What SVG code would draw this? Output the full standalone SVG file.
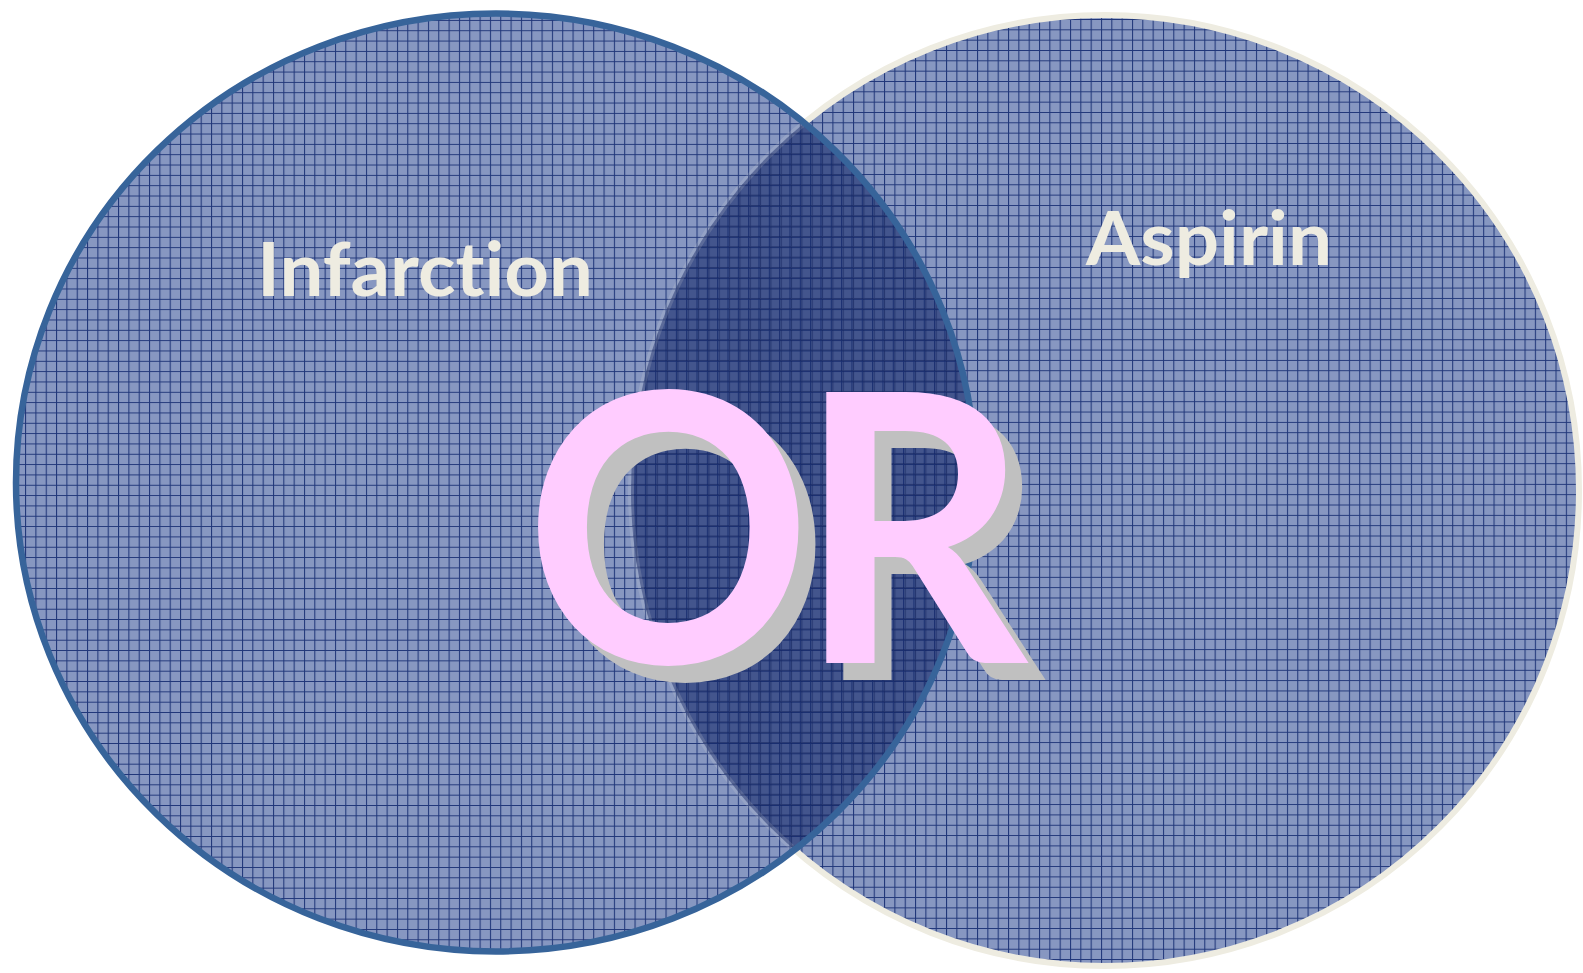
<svg xmlns="http://www.w3.org/2000/svg" width="1583" height="973" viewBox="0 0 1583 973">
<style>
.lbl{font-family:Lato,"Open Sans","Liberation Sans",sans-serif;font-weight:700;font-size:74px;fill:#eeece1;font-variant-ligatures:none;font-feature-settings:"liga" 0,"clig" 0}
.big{font-family:Lato,"Open Sans","Liberation Sans",sans-serif;font-weight:700;font-size:375px}
.sh{fill:#c0c0c0}
.pk{fill:#ffccff}
</style>
<defs>
<pattern id="gridL" patternUnits="userSpaceOnUse" x="4.4" y="9.6" width="10.33" height="10.33">
<rect width="10.33" height="10.33" fill="#8797c1"/>
<path d="M0 0.5H10.33M0.5 0V10.33" stroke="#203679" stroke-width="1.1"/>
</pattern>
<pattern id="gridR" patternUnits="userSpaceOnUse" x="6" y="8.7" width="10.33" height="10.33">
<rect width="10.33" height="10.33" fill="#8797c1"/>
<path d="M0 0.5H10.33M0.5 0V10.33" stroke="#203679" stroke-width="1.1"/>
</pattern>
<pattern id="linesR" patternUnits="userSpaceOnUse" x="6" y="8.7" width="10.33" height="10.33">
<path d="M0 0.5H10.33M0.5 0V10.33" stroke="#14245e" stroke-width="1.1"/>
</pattern>
<clipPath id="clipL"><ellipse cx="496" cy="482.5" rx="480" ry="469"/></clipPath>
</defs>
<rect width="1583" height="973" fill="#ffffff"/>
<g id="aspirin-set">
<ellipse cx="1105" cy="490.5" rx="474" ry="475.5" fill="url(#gridR)" stroke="#eeece1" stroke-width="6"/>
</g>
<g id="infarction-set">
<ellipse cx="496" cy="482.5" rx="480" ry="469" fill="url(#gridL)"/>
</g>
<g id="intersection" clip-path="url(#clipL)">
<ellipse cx="1105" cy="490.5" rx="474" ry="475.5" fill="#16296a" fill-opacity="0.6"/>
<ellipse cx="1105" cy="490.5" rx="474" ry="475.5" fill="url(#linesR)" opacity="0.6"/>
<ellipse cx="1105" cy="490.5" rx="474" ry="475.5" fill="none" stroke="#eeece1" stroke-width="6" opacity="0.15"/>
</g>
<g id="infarction-outline">
<ellipse cx="496" cy="482.5" rx="480" ry="469" fill="none" stroke="#37649a" stroke-width="6.5"/>
</g>
<g id="labels">
<text class="lbl" x="257" y="296" textLength="336" lengthAdjust="spacingAndGlyphs">Infarction</text>
<text class="lbl" x="1086" y="265" textLength="246" lengthAdjust="spacingAndGlyphs">Aspirin</text>
</g>
<g id="or-label">
<text class="big sh" transform="translate(541.7,680) scale(0.948,1)" x="0" y="0">O</text>
<text class="big sh" transform="translate(814.4,680) scale(0.956,1)" x="0" y="0">R</text>
<text class="big pk" transform="translate(524.7,663) scale(0.948,1)" x="0" y="0">O</text>
<text class="big pk" transform="translate(797.4,663) scale(0.956,1)" x="0" y="0">R</text>
</g>
</svg>
